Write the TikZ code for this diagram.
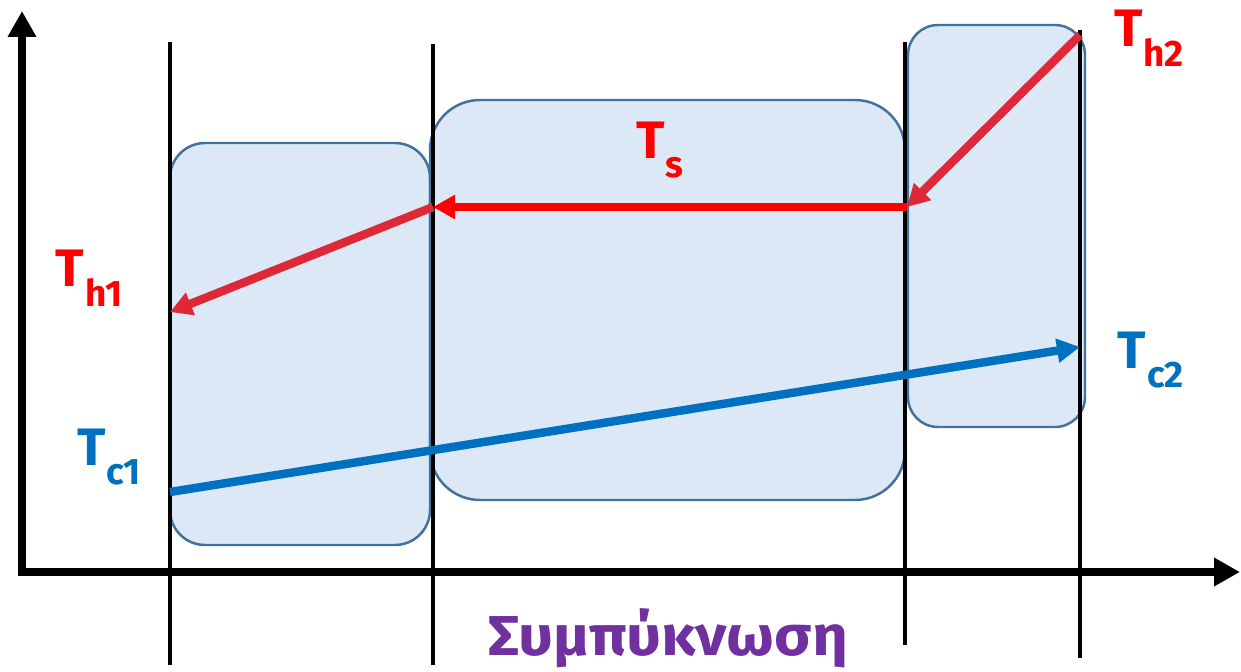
\documentclass[tikz,border=0pt]{standalone}
\usepackage{fontspec}
\setmainfont{Fira Sans}
\usetikzlibrary{arrows.meta}
\definecolor{hotRed}{RGB}{255,0,0}
\definecolor{hotCrimson}{RGB}{222,40,56}
\definecolor{coldBlue}{RGB}{0,112,192}
\definecolor{zoneFill}{RGB}{220,232,245}
\definecolor{zoneEdge}{RGB}{65,113,156}
\definecolor{condPurple}{RGB}{112,48,160}
\newcommand{\templabel}[1]{T\kern0.5pt\raisebox{-0.7ex}{\fontsize{21}{21}\selectfont #1}}

\begin{document}
\begin{tikzpicture}[x=0.02cm,y=-0.02cm]
    \tikzset{
      axis/.style={line width=5pt,-{Triangle[length=0.52cm,width=0.54cm]}},
      divider/.style={line width=2.5pt},
      zone/.style={draw=zoneEdge,line width=1.4pt,fill=zoneFill},
      hot/.style={line width=4.8pt,-{Triangle[length=0.44cm,width=0.46cm]}},
      cold/.style={draw=coldBlue,line width=4.8pt,-{Triangle[length=0.46cm,width=0.46cm]}},
      tlabel/.style={font=\fontsize{30}{30}\selectfont\bfseries,inner sep=0pt}
    }
    \useasboundingbox (0,0) rectangle (1241,672);
    % zones
    \draw[zone,rounded corners=0.7cm] (170,143) rectangle (430,545);
    \draw[zone,rounded corners=1cm] (430,100) rectangle (905,500);
    \draw[zone,rounded corners=0.6cm] (908,25) rectangle (1085,427);
    % dividers
    \foreach \x/\top/\bot in {170/42/665,433/44/665,905/42/645,1080/30/658}
      \draw[divider] (\x,\top) -- (\x,\bot);
    % axes
    \coordinate (origin) at (22,572);
    \coordinate (ytop) at (22,11);
    \coordinate (xend) at (1240,572);
    \draw[axis] ([yshift=-2.5pt]origin) -- (ytop);
    \draw[axis] ([xshift=-2.5pt]origin) -- (xend);
    % temperature profiles
    \coordinate (h2) at (1080,35);
    \coordinate (s2) at (907,207);
    \coordinate (s1) at (433,207);
    \coordinate (h1) at (170,312);
    \coordinate (c1) at (170,492);
    \coordinate (c2) at (1080,347);
    \draw[hot,draw=hotCrimson] (h2) -- (s2);
    \draw[hot,draw=hotRed] (s2) -- (s1);
    \draw[hot,draw=hotCrimson] (s1) -- (h1);
    \draw[cold] (c1) -- (c2);
    % labels
    \node[tlabel,text=hotRed] (Th2) at (1149,38) {\templabel{h2}};
    \node[tlabel,text=hotRed] (Th1) at (89,278) {\templabel{h1}};
    \node[tlabel,text=hotRed] (Ts) at (660,150) {\templabel{s}};
    \node[tlabel,text=coldBlue] (Tc2) at (1151,360) {\templabel{c2}};
    \node[tlabel,text=coldBlue] (Tc1) at (109,457) {\templabel{c1}};
    \node[font=\fontsize{32}{32}\selectfont\bfseries,text=condPurple,inner sep=0pt] (cond) at (668,638) {\scalebox{1.1}[1]{Συμπύκνωση}};
\end{tikzpicture}
\end{document}
